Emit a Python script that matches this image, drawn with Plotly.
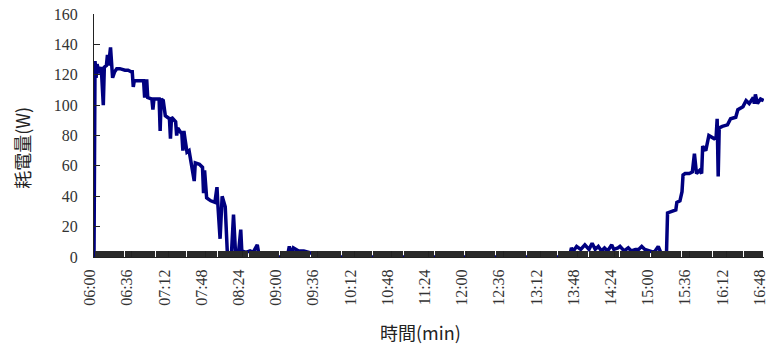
import datetime as dt
import plotly.graph_objects as go

# Power readings: minutes after 06:00 and consumption in watts
minutes = [0, 1, 2, 3, 5, 7, 9, 10, 12, 13, 14, 16, 18, 20, 22, 25, 30, 33, 36, 37,
           38, 39, 43, 47, 48, 49, 51, 52, 56, 57, 58, 63, 64, 65, 67, 69, 73, 74, 75, 79,
           80, 81, 83, 85, 86, 87, 88, 90, 92, 94, 97, 98, 102, 105, 106, 107, 108, 109, 111, 113,
           117, 119, 120, 122, 124, 127, 129, 133, 135, 137, 140, 142, 143, 147, 151, 154, 158, 160,
           187, 189, 191, 193, 198, 203, 208, 212, 215,
           460, 462, 464, 467, 471, 475, 479, 482, 485, 488, 491, 494, 497, 501, 503, 507, 509,
           513, 517, 520, 524, 527, 530, 533, 538, 542, 546, 549, 552, 554,
           555, 560, 563, 564, 567, 569, 570, 572, 576, 579, 581, 583, 586, 588, 589, 592, 595,
           600, 602, 603, 604, 605, 608, 613, 616, 621, 623, 628, 631, 634, 638, 639, 640, 642,
           645, 648]
watts = [0, 129, 118, 127, 121, 125, 100, 125, 126, 133, 126, 138, 118, 122, 124, 124, 123, 123, 122, 122,
         112, 116, 116, 116, 116, 105, 117, 105, 104, 97, 104, 104, 83, 104, 103, 93, 91, 78, 92, 89,
         80, 85, 83, 81, 70, 83, 78, 69, 70, 63, 50, 62, 61, 59, 42, 57, 47, 39, 38, 37,
         36, 46, 33, 12, 40, 33, 3, 2, 28, 2, 4, 18, 4, 3, 4, 3, 8, 0,
         0, 7, 1, 6, 4, 4, 3, 2, 0,
         0, 6, 4, 7, 5, 8, 5, 9, 5, 7, 4, 6, 4, 8, 5, 6, 7,
         4, 6, 4, 5, 5, 7, 5, 4, 3, 7, 2, 2, 3,
         29, 30, 31, 36, 37, 43, 54, 55, 55, 56, 68, 55, 57, 55, 73, 70, 80,
         78, 79, 91, 53, 85, 86, 87, 91, 92, 97, 99, 103, 101, 105, 101, 107, 101,
         104, 103]

# Clock labels along the time axis (every 36 minutes)
x_tick_labels = ["06:00", "06:36", "07:12", "07:48", "08:24", "09:00", "09:36",
                 "10:12", "10:48", "11:24", "12:00", "12:36", "13:12", "13:48",
                 "14:24", "15:00", "15:36", "16:12", "16:48"]
y_ticks = [0, 20, 40, 60, 80, 100, 120, 140, 160]

start = dt.datetime(2000, 1, 1, 6, 0)
end = start + dt.timedelta(minutes=648)
times = [start + dt.timedelta(minutes=m) for m in minutes]
x_tick_vals = [start + dt.timedelta(minutes=36 * i) for i in range(len(x_tick_labels))]

serif = "Liberation Serif, Times New Roman, serif"
cjk = "Noto Sans CJK TC"

fig = go.Figure()
fig.add_trace(go.Scatter(
    x=times, y=watts, mode="lines",
    line=dict(color="#000080", width=3.5),
    showlegend=False,
))

fig.update_layout(
    width=769, height=347,
    margin=dict(l=94, r=1, t=14, b=90),
    paper_bgcolor="white", plot_bgcolor="white",
    font=dict(family=serif, size=16, color="#333"),
    xaxis=dict(
        type="date",
        range=[start, end + dt.timedelta(seconds=20)],
        tickmode="array", tickvals=x_tick_vals, ticktext=x_tick_labels,
        tickangle=-90, ticklabeloverflow="allow",
        ticks="inside", ticklen=6, tickcolor="#222", tickwidth=1,
        minor=dict(tickmode="linear", tick0=start, dtick=60 * 1000,
                   ticks="inside", ticklen=6, tickcolor="#2a2a2a", tickwidth=0.7),
        showline=True, linecolor="#222", linewidth=1,
        showgrid=False, zeroline=False,
        tickfont=dict(family=serif, size=16, color="#333"),
        ticklabelstandoff=5, ticklabelshift=-4,
    ),
    yaxis=dict(
        range=[0, 160], tickvals=y_ticks,
        ticks="inside", ticklen=6, tickcolor="#222", tickwidth=1,
        showline=True, linecolor="#222", linewidth=1,
        showgrid=False, zeroline=False,
        tickfont=dict(family=serif, size=16, color="#333"),
        ticklabelstandoff=12,
    ),
    annotations=[
        dict(text="時間(min)", xref="paper", yref="paper", x=0.487, y=-0.31,
             xanchor="center", yanchor="middle", showarrow=False,
             font=dict(family=cjk, size=18, color="#222")),
        dict(text="耗電量(W)", xref="paper", yref="paper", x=-0.108, y=0.448,
             xanchor="center", yanchor="middle", showarrow=False, textangle=-90,
             font=dict(family=cjk, size=18, color="#222")),
    ],
)

fig.write_html("out.html")
